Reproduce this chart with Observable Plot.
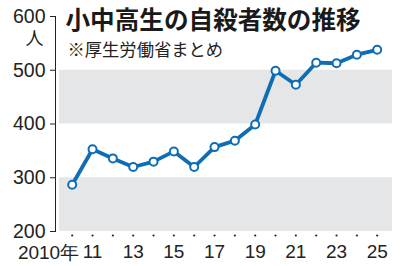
<!DOCTYPE html>
<html>
<head>
<meta charset="utf-8">
<script src="https://cdn.jsdelivr.net/npm/d3@7"></script>
<script src="https://cdn.jsdelivr.net/npm/@observablehq/plot@0.6"></script>
<style>
  html, body { margin: 0; padding: 0; background: #fff; }
  #chart svg { display: block; }
</style>
</head>
<body>
<div id="chart"></div>
<script>
const title = "小中高生の自殺者数の推移";
const subtitle = "※厚生労働省まとめ";
const unitLabel = "人";
const years = [2010, 2011, 2012, 2013, 2014, 2015, 2016, 2017, 2018, 2019, 2020, 2021, 2022, 2023, 2024, 2025];
const counts = [287, 353, 336, 320, 330, 349, 320, 357, 369, 399, 499, 473, 514, 513, 529, 538];
const yTicks = [200, 300, 400, 500, 600];
const xLabelYears = [2011, 2013, 2015, 2017, 2019, 2021, 2023, 2025];
const firstYearLabel = "2010年";
const bands = [[200, 300], [400, 500]];

const data = years.map((y, i) => ({year: y, value: counts[i]}));
const blue = "#0f6db5";
const numFont = "'Liberation Sans', Arial, sans-serif";
const jpFont = "'Noto Sans CJK JP', sans-serif";

const chart = Plot.plot({
  width: 400,
  height: 266,
  marginLeft: 59,
  marginRight: 8,
  marginTop: 16,
  marginBottom: 35,
  style: {fontFamily: numFont, fontSize: "19px", color: "#222", background: "#fff"},
  x: {domain: [2010, 2025], range: [71.7, 376.7]},
  y: {domain: [200, 600]},
  marks: [
    Plot.rect(bands, {y1: d => d[0], y2: d => d[1], fill: "#e5e6e7"}),
    Plot.frame({anchor: "left", dx: -4, stroke: "#222", strokeWidth: 1}),
    Plot.axisY({ticks: yTicks, tickSize: 5, tickPadding: 5, dx: -4, label: null, fontSize: 19.5, fill: "#222", stroke: "#222"}),
    Plot.text([unitLabel], {frameAnchor: "top-left", dx: -25, dy: 23, textAnchor: "middle", lineAnchor: "middle", fontSize: 18, fontFamily: jpFont, fill: "#222"}),
    Plot.axisX({ticks: xLabelYears, tickSize: 0, tickPadding: 0, dy: 13, tickFormat: d => String(d).slice(2), label: null, fontSize: 19, fill: "#222"}),
    Plot.text([2010], {x: d => d, frameAnchor: "bottom", dy: 21, textAnchor: "end", lineAnchor: "middle", dx: 7, text: () => firstYearLabel, fontSize: 19, fontFamily: numFont, fill: "#222"}),
    Plot.dot(years, {x: d => d, frameAnchor: "bottom", dy: 4, r: 1.1, fill: "#222", stroke: "none"}),
    Plot.line(data, {x: "year", y: "value", stroke: blue, strokeWidth: 3.8, strokeLinejoin: "round"}),
    Plot.dot(data, {x: "year", y: "value", r: 4, fill: "#fff", stroke: blue, strokeWidth: 2}),
    Plot.text([title], {frameAnchor: "top-left", dx: 6, dy: 5, lineAnchor: "middle", textAnchor: "start", fontSize: 24.6, fontWeight: "bold", fontFamily: jpFont, fill: "#1a1a1a"}),
    Plot.text([subtitle], {frameAnchor: "top-left", dx: 8, dy: 34, lineAnchor: "middle", textAnchor: "start", fontSize: 17.3, fontFamily: jpFont, fill: "#222"})
  ]
});
document.getElementById("chart").appendChild(chart);
</script>
</body>
</html>
